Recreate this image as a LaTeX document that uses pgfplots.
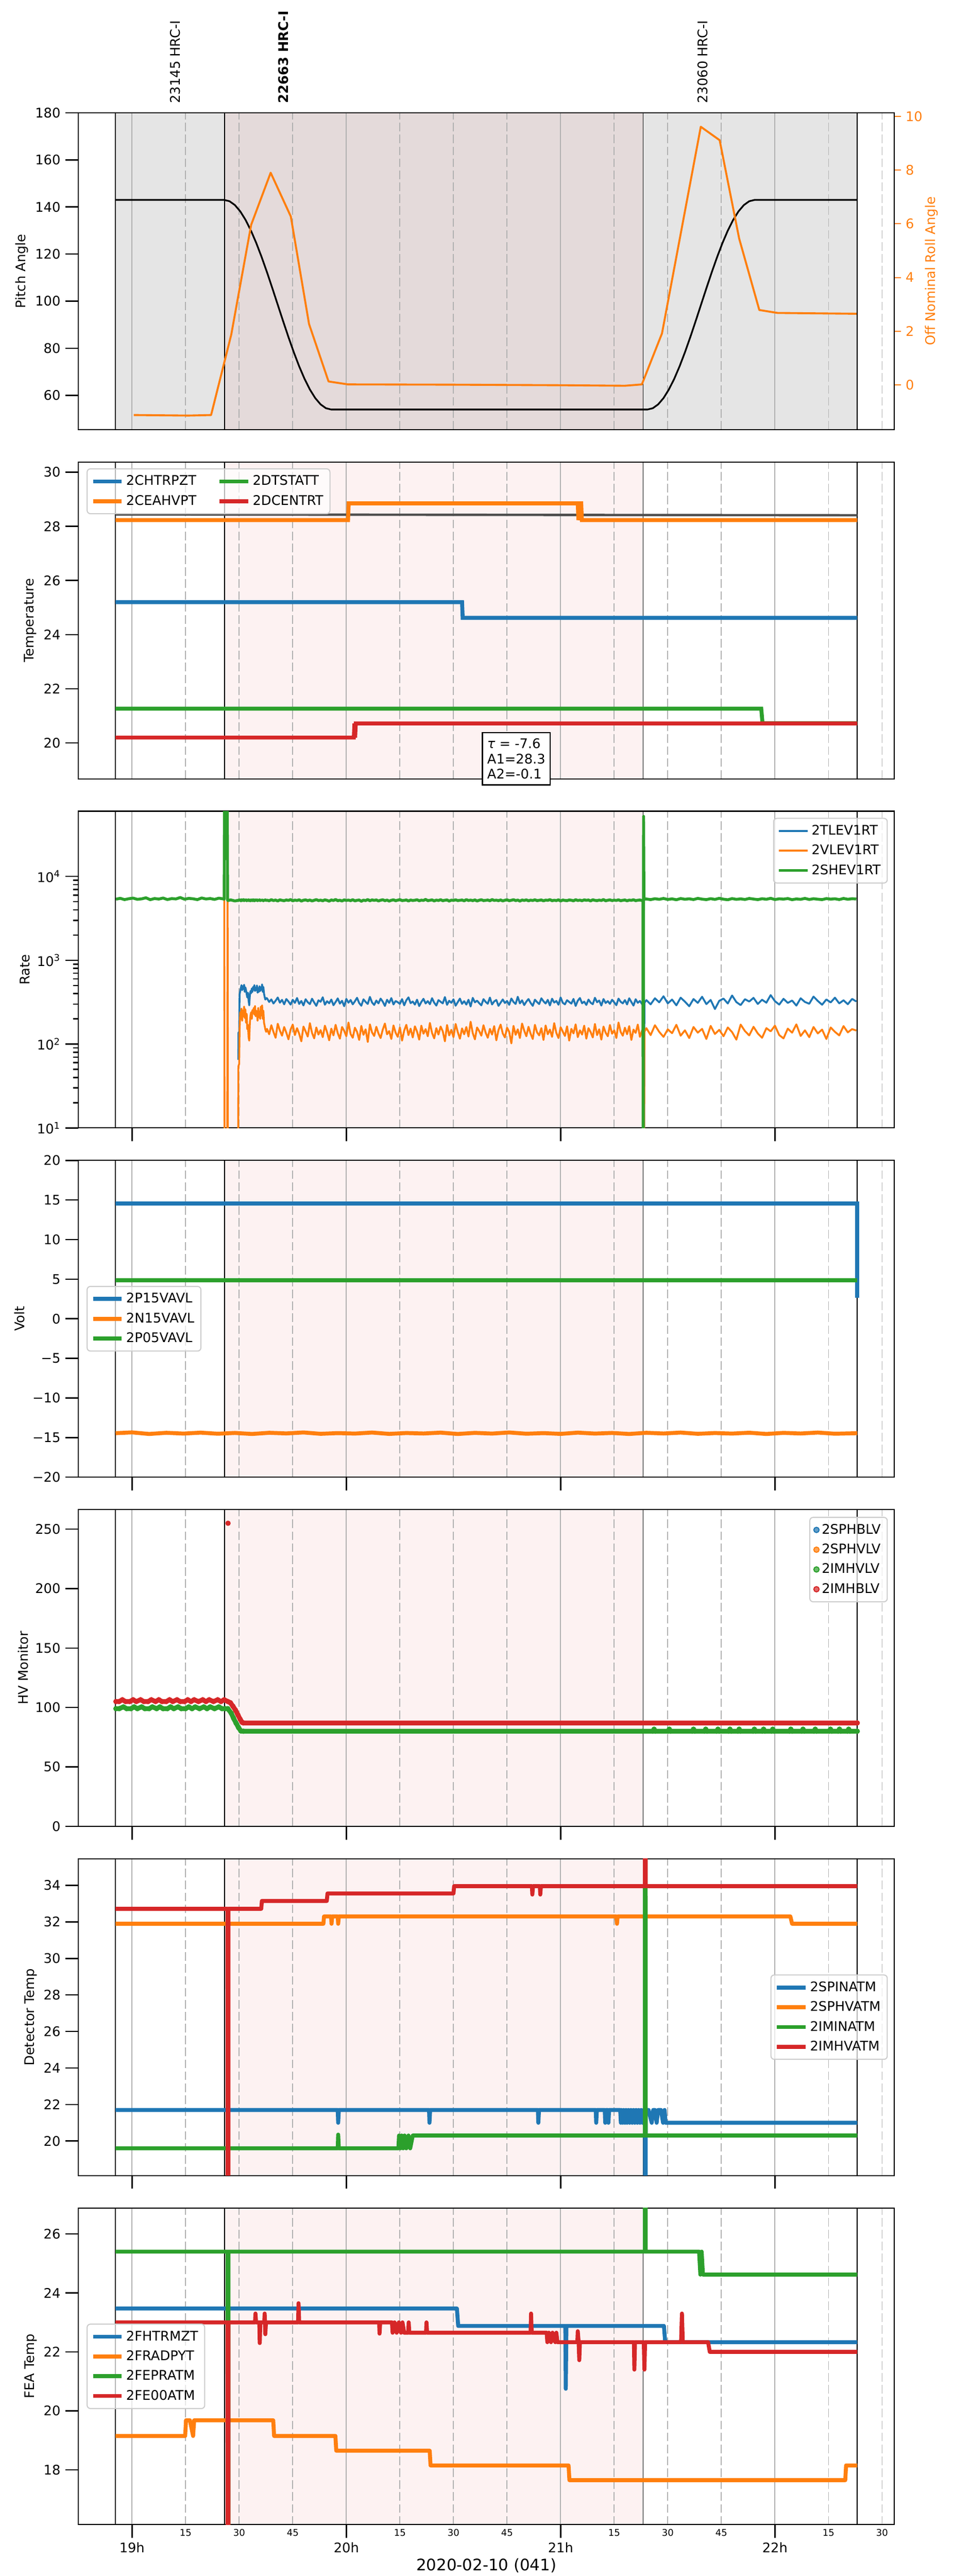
\documentclass[border=0pt]{standalone}
\usepackage{fontspec}
\setmainfont{DejaVu Sans}
\usepackage{pgfplots}
\usepackage{pgfplotstable}
\pgfplotsset{compat=1.18}

\definecolor{tblue}{HTML}{1F77B4}
\definecolor{torange}{HTML}{FF7F0E}
\definecolor{tgreen}{HTML}{2CA02C}
\definecolor{tred}{HTML}{D62728}
\definecolor{gridc}{HTML}{B0B0B0}
\definecolor{shgray}{HTML}{E5E5E5}
\definecolor{shbrown}{HTML}{E4DADA}
\definecolor{shpink}{HTML}{FDF2F2}
\definecolor{lgray}{HTML}{CCCCCC}
\definecolor{fitgray}{HTML}{505050}

\pgfplotstableread{
t tl vl sh
18.925 nan nan 5350
18.945 nan nan 5480
18.965 nan nan 5290
18.985 nan nan 5420
19.005 nan nan 5510
19.025 nan nan 5330
19.045 nan nan 5400
19.065 nan nan 5560
19.085 nan nan 5280
19.105 nan nan 5450
19.125 nan nan 5370
19.145 nan nan 5520
19.165 nan nan 5300
19.185 nan nan 5440
19.205 nan nan 5390
19.225 nan nan 5600
19.245 nan nan 5350
19.265 nan nan 5470
19.285 nan nan 5410
19.305 nan nan 5290
19.325 nan nan 5530
19.345 nan nan 5380
19.365 nan nan 5450
19.385 nan nan 5320
19.405 nan nan 5500
19.425 nan nan 5400
19.430 nan 24000 5350
19.432 nan 1 200000
19.444 nan 1 200000
19.446 nan 9000 5200
19.448 nan 1 5150
19.460 nan 1 5250
19.480 nan 1 5100
19.495 nan 1 5180
19.496 65 50 5220
19.497 137 55 5150
19.500 140 58 5260
19.502 390 148 5190
19.505 430 240 5230
19.508 470 200 5120
19.511 505 265 5270
19.514 440 190 5160
19.517 490 250 5210
19.520 455 215 5290
19.523 510 280 5140
19.526 420 205 5230
19.529 475 260 5180
19.532 440 180 5250
19.535 395 230 5130
19.538 360 150 5220
19.541 410 170 5170
19.544 330 120 5260
19.547 290 110 5150
19.550 380 180 5210
19.553 430 220 5120
19.556 405 240 5240
19.559 460 200 5190
19.562 420 255 5150
19.565 480 235 5270
19.568 445 270 5180
19.571 505 225 5130
19.574 430 285 5240
19.577 470 215 5200
19.580 440 250 5160
19.583 500 230 5250
19.586 410 190 5140
19.589 465 270 5220
19.592 420 210 5180
19.595 490 245 5260
19.598 430 200 5150
19.601 475 280 5210
19.604 445 220 5170
19.607 515 290 5240
19.610 420 200 5190
19.613 480 250 5130
19.616 400 180 5220
19.619 365 165 5180
19.622 340 150 5250
19.626 355 140 5160
19.63 352 152 5210
19.64 318 131 5120
19.65 341 168 5280
19.66 305 140 5150
19.67 329 119 5230
19.68 360 175 5090
19.69 312 145 5260
19.70 337 126 5180
19.71 298 160 5130
19.72 345 137 5240
19.73 322 114 5170
19.74 296 149 5300
19.75 338 171 5110
19.76 310 128 5220
19.77 355 155 5160
19.78 301 133 5270
19.79 327 108 5080
19.80 289 162 5200
19.81 343 142 5250
19.82 316 123 5140
19.83 300 178 5230
19.84 348 136 5100
19.85 314 117 5190
19.86 286 158 5290
19.87 333 130 5150
19.88 320 147 5210
19.89 362 121 5120
19.90 295 166 5260
19.91 325 139 5180
19.92 307 111 5070
19.93 340 153 5240
19.94 291 127 5160
19.95 318 170 5310
19.96 351 135 5130
19.97 304 116 5200
19.98 329 160 5090
19.99 283 144 5250
20.00 346 124 5170
20.01 312 181 5220
20.02 336 132 5140
20.03 298 119 5280
20.04 324 157 5110
20.05 357 140 5190
20.06 309 112 5230
20.07 287 165 5060
20.08 342 129 5210
20.09 319 150 5150
20.10 301 106 5300
20.11 366 172 5120
20.12 314 138 5250
20.13 293 125 5180
20.14 331 161 5240
20.15 306 134 5100
20.16 349 118 5200
20.17 321 149 5270
20.18 285 176 5140
20.19 338 131 5220
20.20 310 143 5080
20.21 354 115 5190
20.22 297 167 5260
20.23 327 137 5130
20.24 316 122 5210
20.25 302 158 5290
20.26 344 110 5150
20.27 290 145 5180
20.28 333 170 5240
20.29 361 128 5090
20.30 308 153 5230
20.31 322 120 5160
20.32 296 163 5200
20.33 339 141 5270
20.34 284 113 5120
20.35 318 166 5210
20.36 347 133 5170
20.37 305 151 5320
20.38 326 124 5140
20.39 299 179 5190
20.40 353 136 5250
20.41 312 117 5100
20.42 288 155 5220
20.43 335 130 5160
20.44 320 162 5280
20.45 306 142 5130
20.46 364 108 5200
20.47 294 169 5240
20.48 329 127 5080
20.49 311 148 5210
20.50 342 121 5170
20.51 287 174 5260
20.52 317 139 5150
20.53 349 116 5190
20.54 302 154 5230
20.55 325 131 5110
20.56 296 160 5290
20.57 338 123 5160
20.58 281 185 5220
20.59 356 135 5140
20.60 315 114 5250
20.61 330 158 5090
20.62 308 143 5200
20.63 290 126 5270
20.64 344 168 5150
20.65 319 137 5180
20.66 303 119 5230
20.67 359 152 5120
20.68 297 130 5300
20.69 323 164 5170
20.70 336 111 5210
20.71 286 147 5140
20.72 312 171 5240
20.73 341 134 5100
20.74 309 120 5200
20.75 327 157 5260
20.76 294 140 5130
20.77 350 102 5190
20.78 318 165 5280
20.79 301 129 5150
20.80 367 150 5220
20.81 306 118 5080
20.82 333 176 5230
20.83 292 145 5170
20.84 321 124 5250
20.85 345 161 5120
20.86 310 133 5210
20.87 286 115 5160
20.88 339 170 5270
20.89 317 138 5140
20.90 300 127 5190
20.91 352 155 5240
20.92 324 112 5110
20.93 305 167 5220
20.94 337 131 5180
20.95 289 149 5290
20.96 348 122 5130
20.97 313 178 5200
20.98 327 136 5150
20.99 295 118 5260
21.00 360 159 5090
21.01 311 141 5230
21.02 298 125 5170
21.03 334 163 5140
21.04 318 110 5240
21.05 304 152 5200
21.06 346 134 5110
21.07 285 172 5280
21.08 329 121 5160
21.09 355 146 5210
21.10 307 130 5130
21.11 321 166 5250
21.12 293 116 5190
21.13 340 155 5230
21.14 312 139 5100
21.15 299 120 5270
21.16 357 174 5180
21.17 316 128 5140
21.18 331 150 5220
21.19 288 113 5160
21.20 345 162 5300
21.21 309 137 5120
21.22 326 124 5200
21.23 302 169 5250
21.24 338 133 5150
21.25 315 146 5210
21.26 291 118 5170
21.27 349 181 5260
21.28 320 140 5130
21.29 306 126 5190
21.30 335 157 5240
21.31 297 131 5110
21.32 352 164 5220
21.33 318 112 5180
21.34 288 149 5270
21.35 343 136 5140
21.36 311 171 5200
21.37 327 122 5230
21.38 300 145 5160
21.384 295 150 5200
21.385 1 1 1
21.387 1 1 52000
21.389 1 1 5300
21.391 310 140 5350
21.40 335 155 5380
21.42 298 128 5290
21.44 352 168 5420
21.46 315 140 5330
21.48 372 122 5460
21.50 306 150 5310
21.52 340 135 5400
21.54 290 170 5270
21.56 358 126 5450
21.58 321 146 5340
21.60 283 118 5410
21.62 345 160 5300
21.64 310 137 5470
21.66 367 152 5360
21.68 300 115 5290
21.70 336 165 5430
21.72 262 132 5320
21.74 328 148 5480
21.76 349 124 5350
21.78 305 158 5270
21.80 380 139 5440
21.82 317 113 5330
21.84 292 171 5400
21.86 343 143 5310
21.88 322 127 5460
21.90 356 161 5370
21.92 301 134 5290
21.94 338 119 5420
21.96 312 155 5340
21.98 384 142 5480
22.00 325 166 5300
22.02 296 128 5410
22.04 347 117 5360
22.06 310 153 5450
22.08 331 137 5280
22.10 288 172 5390
22.12 352 125 5330
22.14 318 146 5470
22.16 303 121 5310
22.18 369 160 5420
22.20 327 134 5350
22.22 295 149 5290
22.24 341 115 5440
22.26 314 158 5360
22.28 358 140 5410
22.30 306 127 5300
22.32 333 164 5460
22.34 299 138 5340
22.36 346 151 5420
22.38 322 145 5380
}\ratetable

\pgfplotsset{
  legend image code/.code={\draw[#1] (0pt,0pt) -- (21.5pt,0pt);},
  shade/.style={forget plot, on layer=axis background, draw=none, fill=#1},
  bline/.style={forget plot, on layer=pre main, black, line width=0.6pt},
  panel/.style={
    set layers,
    clip mode=individual,
    scale only axis,
    width=615.8pt, height=239.04pt,
    anchor=north west,
    xmin=18.75, xmax=22.557,
    xtick={19,20,21,22},
    xticklabels={},
    xmajorgrids,
    major grid style={gridc, line width=0.8pt, solid},
    extra x ticks={19.25,19.5,19.75,20.25,20.5,20.75,21.25,21.5,21.75,22.25,22.5},
    extra x tick labels={},
    extra x tick style={grid=major, major grid style={gridc, line width=0.7pt, dash pattern=on 6.5pt off 2.5pt}, major tick length=0pt},
    tick align=outside,
    tick pos=left,
    major tick length=10pt,
    minor tick length=4pt,
    every tick/.style={black, line width=1pt},
    axis line style={black, line width=0.8pt},
    tick label style={font=\fontsize{10}{12}\selectfont},
    label style={font=\fontsize{10}{12}\selectfont},
    /pgf/number format/assume math mode=true,
    /pgf/number format/1000 sep={},
    unbounded coords=jump,
    legend cell align=left,
    legend style={font=\fontsize{10}{12}\selectfont, draw=lgray, line width=0.8pt, rounded corners=2.5pt, fill=white, fill opacity=0.7, text opacity=1, inner xsep=3pt, inner ysep=3pt, row sep=2pt},
  },
}

\newcommand{\blines}[2]{%
  \addplot[bline] coordinates {(18.923,#1)(18.923,#2)};
  \addplot[bline] coordinates {(19.4315,#1)(19.4315,#2)};
  \addplot[bline] coordinates {(21.3845,#1)(21.3845,#2)};
  \addplot[bline] coordinates {(22.384,#1)(22.384,#2)};
}
\newcommand{\pinkshade}[2]{%
  \addplot[shade=shpink] coordinates {(19.4315,#1)(21.3845,#1)(21.3845,#2)(19.4315,#2)} -- cycle;
}

\begin{document}
\begin{tikzpicture}
\path (0pt,0pt) rectangle (720pt,1944pt);

% ---------------- Panel 1: Pitch ----------------
\begin{axis}[panel, at={(59.2pt,1858.86pt)}, xtick style={draw=none},
  ymin=45.5, ymax=180, ytick={60,80,...,180}, ylabel={Pitch Angle},
  ylabel style={at={(axis description cs:-0.0693,0.5)}, anchor=center}]
\addplot[shade=shgray] coordinates {(18.923,45.5)(22.384,45.5)(22.384,180)(18.923,180)} -- cycle;
\addplot[shade=shbrown] coordinates {(19.4315,45.5)(21.3845,45.5)(21.3845,180)(19.4315,180)} -- cycle;
\blines{45.5}{180}
\addplot[black, line width=1.3pt, line join=round] coordinates {
(18.923,143)(19.43,143)(19.455,142.45)(19.48,140.82)(19.505,138.15)(19.53,134.50)(19.555,129.97)(19.58,124.66)(19.605,118.70)(19.63,112.25)(19.655,105.46)(19.68,98.5)(19.705,91.54)(19.73,84.75)(19.755,78.30)(19.78,72.34)(19.805,67.03)(19.83,62.50)(19.855,58.85)(19.88,56.18)(19.905,54.55)(19.93,54.0)(21.405,54.0)(21.43,54.55)(21.455,56.18)(21.48,58.85)(21.505,62.5)(21.53,67.03)(21.555,72.34)(21.58,78.30)(21.605,84.75)(21.63,91.54)(21.655,98.5)(21.68,105.46)(21.705,112.25)(21.73,118.70)(21.755,124.66)(21.78,129.97)(21.805,134.50)(21.83,138.15)(21.855,140.82)(21.88,142.45)(21.905,143)(22.384,143)};
\coordinate (lab1) at (axis cs:19.2007,180);
\coordinate (lab2) at (axis cs:19.7068,180);
\coordinate (lab3) at (axis cs:21.662,180);
\end{axis}
\begin{axis}[scale only axis, width=615.8pt, height=239.04pt, at={(59.2pt,1858.86pt)}, anchor=north west,
  xmin=18.75, xmax=22.557, ymin=-1.66, ymax=10.13,
  axis x line=none, axis y line*=right, ytick={0,2,...,10},
  tick align=outside, major tick length=5pt,
  every tick/.style={torange, line width=0.8pt},
  axis line style={black, line width=0.8pt},
  yticklabel style={torange, font=\fontsize{10}{12}\selectfont},
  ylabel={Off Nominal Roll Angle},
  ylabel style={torange, font=\fontsize{10}{12}\selectfont, at={(axis description cs:1.0455,0.5)}, anchor=center},
  /pgf/number format/assume math mode=true]
\addplot[torange, line width=1.5pt, line join=round] coordinates {
(19.008,-1.12)(19.264,-1.14)(19.369,-1.12)(19.463,1.87)(19.556,5.96)(19.647,7.90)(19.741,6.27)(19.826,2.27)(19.917,0.13)(20.008,0.02)(20.5,0.01)(21.0,-0.01)(21.30,-0.03)(21.379,0.02)(21.473,1.92)(21.654,9.61)(21.742,9.11)(21.833,5.45)(21.927,2.79)(22.012,2.68)(22.381,2.65)};
\end{axis}
\node[rotate=90, anchor=west, inner sep=0pt, font=\fontsize{10}{12}\selectfont] at ([yshift=7pt]lab1) {23145 HRC-I};
\node[rotate=90, anchor=west, inner sep=0pt, font=\fontsize{10}{12}\selectfont\bfseries] at ([yshift=7pt]lab2) {22663 HRC-I};
\node[rotate=90, anchor=west, inner sep=0pt, font=\fontsize{10}{12}\selectfont] at ([yshift=7pt]lab3) {23060 HRC-I};

% ---------------- Panel 2: Temperature ----------------
\begin{axis}[panel, at={(59.2pt,1595.34pt)}, xtick style={draw=none},
  ymin=18.68, ymax=30.377, ytick={20,22,...,30}, ylabel={Temperature},
  ylabel style={at={(axis description cs:-0.0588,0.5)}, anchor=center},
  legend columns=2, transpose legend,
  legend style={at={(0.01,0.98)}, anchor=north west, /tikz/every even column/.append style={column sep=14pt}}]
\pinkshade{18.68}{30.377}
\blines{18.68}{30.377}
\addplot[forget plot, fitgray, line width=1.8pt] coordinates {(18.923,28.44)(22.384,28.41)};
\addplot[tblue, line width=3pt] coordinates {(18.923,25.2)(20.540,25.2)(20.543,24.62)(22.384,24.62)};
\addlegendentry{2CHTRPZT}
\addplot[torange, line width=3pt] coordinates {(18.923,28.23)(20.008,28.23)(20.011,28.85)(21.080,28.85)(21.083,28.23)(21.088,28.85)(21.096,28.85)(21.099,28.23)(22.384,28.23)};
\addlegendentry{2CEAHVPT}
\addplot[tgreen, line width=3pt] coordinates {(18.923,21.27)(21.936,21.27)(21.942,20.73)(22.384,20.73)};
\addlegendentry{2DTSTATT}
\addplot[tred, line width=3pt] coordinates {(18.923,20.2)(20.035,20.2)(20.038,20.72)(20.041,20.2)(20.044,20.72)(22.384,20.72)};
\addlegendentry{2DCENTRT}
\coordinate (tb) at (axis cs:20.632,20.41);
\end{axis}
\node[draw=black, line width=0.9pt, fill=white, anchor=north west, align=left, inner xsep=3.7pt, inner ysep=4.5pt, font=\fontsize{10}{11.5}\selectfont] at (tb) {{\itshape τ} = -7.6\\A1=28.3\\A2=-0.1};

% ---------------- Panel 3: Rate ----------------
\begin{axis}[panel, at={(59.2pt,1331.82pt)},
  ymode=log, ymin=10, ymax=60000, ytick={10,100,1000,10000},
  yticklabels={10\textsuperscript{1},10\textsuperscript{2},10\textsuperscript{3},10\textsuperscript{4}},
  ylabel={Rate},
  ylabel style={at={(axis description cs:-0.0656,0.5)}, anchor=center},
  legend style={at={(0.992,0.979)}, anchor=north east}]
\pinkshade{10}{60000}
\blines{10}{60000}
\addplot[tblue, line width=1.4pt, line join=round] table[x=t, y=tl] {\ratetable};
\addlegendentry{2TLEV1RT}
\addplot[torange, line width=1.4pt, line join=round] table[x=t, y=vl] {\ratetable};
\addlegendentry{2VLEV1RT}
\addplot[tgreen, line width=2.2pt, line join=round] table[x=t, y=sh] {\ratetable};
\addlegendentry{2SHEV1RT}
\end{axis}

% ---------------- Panel 4: Volt ----------------
\begin{axis}[panel, at={(59.2pt,1068.30pt)},
  ymin=-20, ymax=20, ytick={-20,-15,...,20},
  yticklabels={−20,−15,−10,−5,0,5,10,15,20},
  ylabel={Volt},
  ylabel style={at={(axis description cs:-0.0723,0.5)}, anchor=center},
  legend style={at={(0.01,0.5)}, anchor=west}]
\pinkshade{-20}{20}
\blines{-20}{20}
\addplot[tblue, line width=3pt] coordinates {(18.923,14.54)(22.384,14.54)(22.384,2.64)};
\addlegendentry{2P15VAVL}
\addplot[torange, line width=3pt] coordinates {(18.923,-14.45)(19.00,-14.35)(19.08,-14.55)(19.16,-14.40)(19.24,-14.50)(19.32,-14.38)(19.40,-14.52)(19.48,-14.42)(19.56,-14.55)(19.64,-14.40)(19.72,-14.48)(19.80,-14.36)(19.88,-14.53)(19.96,-14.44)(20.04,-14.50)(20.12,-14.37)(20.20,-14.54)(20.28,-14.43)(20.36,-14.49)(20.44,-14.38)(20.52,-14.55)(20.60,-14.41)(20.68,-14.50)(20.76,-14.36)(20.84,-14.52)(20.92,-14.44)(21.00,-14.54)(21.08,-14.38)(21.16,-14.50)(21.24,-14.42)(21.32,-14.55)(21.40,-14.40)(21.48,-14.49)(21.56,-14.37)(21.64,-14.53)(21.72,-14.43)(21.80,-14.50)(21.88,-14.39)(21.96,-14.55)(22.04,-14.41)(22.12,-14.49)(22.20,-14.37)(22.28,-14.52)(22.384,-14.45)};
\addlegendentry{2N15VAVL}
\addplot[tgreen, line width=3pt] coordinates {(18.923,4.84)(22.384,4.84)};
\addlegendentry{2P05VAVL}
\end{axis}

% ---------------- Panel 5: HV Monitor ----------------
\begin{axis}[panel, at={(59.2pt,804.78pt)},
  ymin=0, ymax=266.5, ytick={0,50,...,250}, ylabel={HV Monitor},
  ylabel style={at={(axis description cs:-0.0677,0.5)}, anchor=center},
  legend image code/.code={\draw[#1] plot coordinates {(11pt,0pt)};},
  legend style={at={(0.992,0.977)}, anchor=north east}]
\pinkshade{0}{266.5}
\blines{0}{266.5}
\addplot[forget plot, tgreen, line width=3.6pt, line join=round, line cap=round, mark=*, mark size=1.8pt, mark options={solid, line width=0.4pt}] coordinates {
(18.925,99)(18.94,99)(18.96,100.5)(18.975,99)(18.995,99)(19.01,100.5)(19.025,99)(19.045,100.5)(19.06,99)(19.08,99)(19.095,100.5)(19.115,99)(19.13,100.5)(19.145,99)(19.165,99)(19.18,100.5)(19.195,99)(19.215,100.5)(19.23,99)(19.25,99)(19.265,100.5)(19.28,99)(19.295,100.5)(19.315,99)(19.335,100.5)(19.35,99)(19.365,100.5)(19.385,99)(19.405,100.5)(19.42,99)(19.435,99)(19.447,99)(19.463,95.2)(19.474,90.9)(19.485,87)(19.497,83.1)(19.508,80.2)(19.52,80)(21.384,80)(21.430,80)(21.436,81.7)(21.442,80)(21.501,80)(21.507,81.7)(21.513,80)(21.614,80)(21.620,81.7)(21.626,80)(21.671,80)(21.677,81.7)(21.683,80)(21.728,80)(21.734,81.7)(21.740,80)(21.784,80)(21.790,81.7)(21.796,80)(21.827,80)(21.833,81.7)(21.839,80)(21.898,80)(21.904,81.7)(21.910,80)(21.941,80)(21.947,81.7)(21.953,80)(21.984,80)(21.990,81.7)(21.996,80)(22.068,80)(22.074,81.7)(22.080,80)(22.125,80)(22.131,81.7)(22.137,80)(22.182,80)(22.188,81.7)(22.194,80)(22.253,80)(22.259,81.7)(22.265,80)(22.295,80)(22.301,81.7)(22.307,80)(22.338,80)(22.344,81.7)(22.350,80)(22.384,80)};
\addplot[forget plot, tred, line width=3.6pt, line join=round, line cap=round, mark=*, mark size=1.8pt, mark options={solid, line width=0.4pt}] coordinates {
(18.925,105)(18.94,105)(18.955,106.5)(18.97,105)(18.99,105)(19.005,106.5)(19.02,105)(19.04,106.5)(19.055,105)(19.075,105)(19.09,106.5)(19.11,105)(19.125,106.5)(19.14,105)(19.16,105)(19.175,106.5)(19.19,105)(19.21,106.5)(19.225,105)(19.245,105)(19.26,106.5)(19.275,105)(19.29,106.5)(19.31,105)(19.33,106.5)(19.345,105)(19.36,106.5)(19.38,105)(19.40,106.5)(19.415,105)(19.43,106.5)(19.447,105)(19.459,104)(19.471,101)(19.483,97.7)(19.494,93.8)(19.505,90)(19.514,87.4)(19.52,87)(22.384,87)};
\addplot[forget plot, only marks, tred, mark=*, mark size=1.8pt] coordinates {(19.448,255)};
\addlegendimage{only marks, mark=*, mark size=2pt, tblue}
\addlegendentry{2SPHBLV}
\addlegendimage{only marks, mark=*, mark size=2pt, torange}
\addlegendentry{2SPHVLV}
\addlegendimage{only marks, mark=*, mark size=2pt, tgreen}
\addlegendentry{2IMHVLV}
\addlegendimage{only marks, mark=*, mark size=2pt, tred}
\addlegendentry{2IMHBLV}
\end{axis}

% ---------------- Panel 6: Detector Temp ----------------
\begin{axis}[panel, at={(59.2pt,541.26pt)},
  ymin=18.11, ymax=35.46, ytick={20,22,...,34}, ylabel={Detector Temp},
  ylabel style={at={(axis description cs:-0.0581,0.5)}, anchor=center},
  legend style={at={(0.992,0.5)}, anchor=east}]
\pinkshade{18.11}{35.46}
\blines{18.11}{35.46}
\addplot[tblue, line width=3pt, line join=round] coordinates {
(18.923,21.7)(19.960,21.7)(19.962,21.0)(19.965,21.7)(20.386,21.7)(20.388,21.0)(20.391,21.7)(20.894,21.7)(20.896,21.0)(20.899,21.7)(21.164,21.7)(21.166,21.0)(21.169,21.7)(21.206,21.7)(21.208,21.0)(21.211,21.7)(21.220,21.7)(21.223,21.0)(21.226,21.7)(21.278,21.7)(21.281,21.0)(21.284,21.7)(21.290,21.0)(21.294,21.7)(21.300,21.0)(21.305,21.7)(21.310,21.0)(21.316,21.7)(21.322,21.0)(21.328,21.7)(21.334,21.0)(21.340,21.7)(21.346,21.0)(21.352,21.7)(21.358,21.0)(21.364,21.7)(21.370,21.0)(21.376,21.7)(21.382,21.0)(21.388,21.7)(21.394,21.7)(21.395,0)(21.397,21.7)(21.410,21.7)(21.425,21.0)(21.432,21.7)(21.440,21.7)(21.448,21.0)(21.455,21.7)(21.468,21.7)(21.478,21.0)(21.485,21.7)(21.490,21.0)(22.384,21.0)};
\addlegendentry{2SPINATM}
\addplot[torange, line width=3pt, line join=round] coordinates {
(18.923,31.9)(19.893,31.9)(19.896,32.3)(19.929,32.3)(19.931,31.9)(19.934,32.3)(19.960,32.3)(19.962,31.9)(19.965,32.3)(21.260,32.3)(21.263,31.9)(21.266,32.3)(22.072,32.3)(22.080,31.9)(22.384,31.9)};
\addlegendentry{2SPHVATM}
\addplot[tgreen, line width=3pt, line join=round] coordinates {
(18.923,19.6)(19.960,19.6)(19.962,20.35)(19.965,19.6)(20.243,19.6)(20.246,20.3)(20.252,19.6)(20.258,20.3)(20.265,19.6)(20.272,20.3)(20.280,19.6)(20.290,20.3)(20.298,19.6)(20.310,20.3)(21.393,20.3)(21.395,100)(21.397,20.3)(22.384,20.3)};
\addlegendentry{2IMINATM}
\addplot[tred, line width=3pt, line join=round] coordinates {
(18.923,32.72)(19.446,32.72)(19.448,-100)(19.450,32.72)(19.603,32.72)(19.606,33.15)(19.909,33.15)(19.912,33.56)(20.500,33.56)(20.503,33.96)(20.866,33.96)(20.868,33.5)(20.871,33.96)(20.903,33.96)(20.905,33.5)(20.908,33.96)(21.393,33.96)(21.395,100)(21.397,33.96)(22.384,33.96)};
\addlegendentry{2IMHVATM}
\end{axis}

% ---------------- Panel 7: FEA Temp ----------------
\begin{axis}[panel, at={(59.2pt,277.74pt)},
  ymin=16.14, ymax=26.88, ytick={18,20,...,26}, ylabel={FEA Temp},
  ylabel style={at={(axis description cs:-0.0581,0.5)}, anchor=center},
  xticklabels={19h,20h,21h,22h},
  extra x tick labels={15,30,45,15,30,45,15,30,45,15,30},
  extra x tick style={tick label style={font=\fontsize{7}{8}\selectfont}},
  xlabel={2020-02-10 (041)},
  xlabel style={font=\fontsize{12}{14}\selectfont, inner sep=1pt, at={(axis description cs:0.5,-0.1284)}, anchor=center},
  legend style={at={(0.01,0.5)}, anchor=west}]
\pinkshade{16.14}{26.88}
\blines{16.14}{26.88}
\addplot[tblue, line width=3pt, line join=round] coordinates {
(18.923,23.47)(20.516,23.47)(20.522,22.88)(21.022,22.88)(21.024,20.75)(21.027,22.88)(21.482,22.88)(21.488,22.33)(22.384,22.33)};
\addlegendentry{2FHTRMZT}
\addplot[torange, line width=3pt, line join=round] coordinates {
(18.923,19.15)(19.248,19.15)(19.252,19.68)(19.27,19.68)(19.285,19.15)(19.29,19.68)(19.659,19.68)(19.663,19.15)(19.949,19.15)(19.953,18.65)(20.389,18.65)(20.393,18.15)(21.037,18.15)(21.041,17.65)(22.328,17.65)(22.332,18.15)(22.384,18.15)};
\addlegendentry{2FRADPYT}
\addplot[tgreen, line width=3pt, line join=round] coordinates {
(18.923,25.4)(19.446,25.4)(19.448,-100)(19.450,25.4)(21.393,25.4)(21.395,100)(21.397,25.4)(21.646,25.4)(21.652,24.62)(21.658,25.4)(21.664,24.62)(22.384,24.62)};
\addlegendentry{2FEPRATM}
\addplot[tred, line width=3pt, line join=round] coordinates {
(18.923,23.0)(19.446,23.0)(19.448,-100)(19.450,23.0)(19.574,23.0)(19.576,23.3)(19.579,23.0)(19.594,23.0)(19.596,22.3)(19.599,23.0)(19.617,23.0)(19.619,23.3)(19.622,22.6)(19.625,23.0)(19.775,23.0)(19.777,23.65)(19.780,23.0)(20.153,23.0)(20.155,22.62)(20.158,23.0)(20.213,23.0)(20.216,22.65)(20.225,23.0)(20.235,22.65)(20.245,23.0)(20.255,22.65)(20.262,23.0)(20.270,22.65)(20.289,22.65)(20.291,23.0)(20.294,22.65)(20.372,22.65)(20.374,23.0)(20.377,22.65)(20.860,22.65)(20.862,23.3)(20.865,22.65)(20.935,22.65)(20.938,22.33)(20.945,22.65)(20.955,22.33)(20.962,22.65)(20.975,22.33)(20.980,22.65)(20.985,22.33)(21.078,22.33)(21.080,22.7)(21.084,22.33)(21.087,21.72)(21.090,22.33)(21.342,22.33)(21.344,21.4)(21.347,22.33)(21.388,22.33)(21.391,21.4)(21.394,22.33)(21.562,22.33)(21.566,23.3)(21.570,22.33)(21.688,22.33)(21.696,22.0)(22.384,22.0)};
\addlegendentry{2FE00ATM}
\end{axis}
\end{tikzpicture}
\end{document}
